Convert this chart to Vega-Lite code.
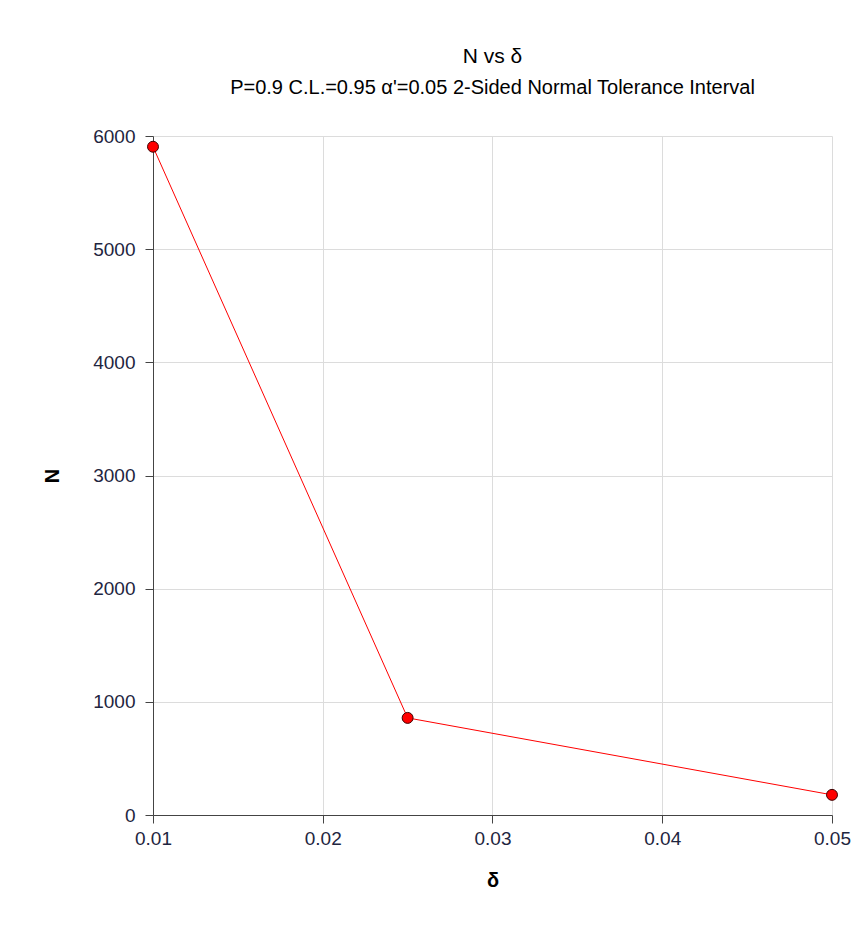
{
  "$schema": "https://vega.github.io/schema/vega-lite/v6.json",
  "autosize": "none",
  "width": 679,
  "height": 679,
  "padding": {"left": 153, "top": 136, "right": 35, "bottom": 111},
  "background": "white",
  "config": {
    "font": "Liberation Sans",
    "view": {"stroke": null}
  },
  "title": {
    "text": "N vs δ",
    "subtitle": "P=0.9 C.L.=0.95 α'=0.05 2-Sided Normal Tolerance Interval",
    "anchor": "middle",
    "fontSize": 21,
    "fontWeight": "normal",
    "color": "black",
    "subtitleFontSize": 20,
    "subtitleColor": "black",
    "subtitlePadding": 11,
    "offset": 29
  },
  "data": {
    "values": [
      {"delta": 0.01, "N": 5905},
      {"delta": 0.025, "N": 858},
      {"delta": 0.05, "N": 178}
    ]
  },
  "encoding": {
    "x": {
      "field": "delta",
      "type": "quantitative",
      "title": "δ",
      "scale": {"domain": [0.01, 0.05], "nice": false, "zero": false},
      "axis": {
        "values": [0.01, 0.02, 0.03, 0.04, 0.05],
        "format": ".2f",
        "labelFontSize": 19,
        "labelColor": "#1e2540",
        "labelPadding": 6,
        "titleFontSize": 20,
        "titleFontWeight": "bold",
        "titleColor": "black",
        "titlePadding": 22,
        "domainColor": "#444",
        "tickColor": "#444",
        "tickSize": 8,
        "gridColor": "#dcdcdc",
        "labelFlush": false
      }
    },
    "y": {
      "field": "N",
      "type": "quantitative",
      "title": "N",
      "scale": {"domain": [0, 6000], "nice": false},
      "axis": {
        "values": [0, 1000, 2000, 3000, 4000, 5000, 6000],
        "format": "d",
        "labelFontSize": 19,
        "labelColor": "#1e2540",
        "labelPadding": 10,
        "titleFontSize": 20,
        "titleFontWeight": "bold",
        "titleColor": "black",
        "titlePadding": 30,
        "domainColor": "#444",
        "tickColor": "#444",
        "tickSize": 8,
        "gridColor": "#dcdcdc",
        "labelFlush": false
      }
    }
  },
  "layer": [
    {"mark": {"type": "line", "color": "#ff0000", "strokeWidth": 1}},
    {"mark": {"type": "point", "filled": true, "fill": "#ff0000", "stroke": "#400000", "strokeWidth": 1, "size": 120, "opacity": 1}}
  ]
}
